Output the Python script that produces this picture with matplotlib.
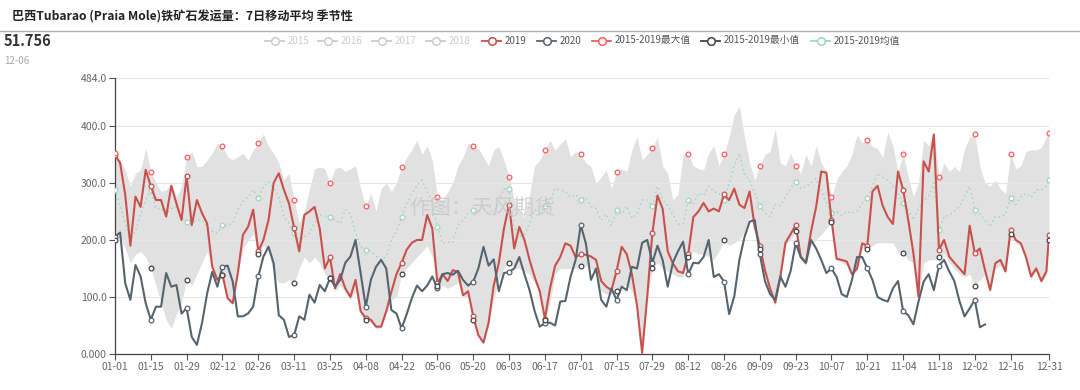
import numpy as np
import pandas as pd
import matplotlib
matplotlib.use('Agg')
import matplotlib.pyplot as plt
from matplotlib.lines import Line2D

plt.rcParams['font.family'] = ['Noto Sans CJK SC', 'DejaVu Sans']

# 采样日（2020年日历上的第几天，每2天一个点，最后补 12-31）
days = list(range(0, 365, 2)) + [365]

# 2019年
y2019 = [349, 335, 279, 190, 276, 258, 323,
         294, 270, 270, 241, 295, 264, 235,
         312, 226, 270, 247, 229, 153, 130,
         139, 98, 89, 142, 209, 223, 253,
         180, 200, 235, 300, 317, 288, 264,
         221, 180, 244, 250, 258, 220, 150,
         170, 115, 140, 115, 100, 130, 75,
         63, 60, 48, 48, 75, 109, 140,
         160, 183, 195, 200, 200, 244, 220,
         124, 140, 128, 147, 144, 103, 110,
         66, 33, 20, 55, 120, 160, 220,
         262, 185, 223, 200, 165, 135, 110,
         62, 115, 155, 170, 194, 190, 170,
         175, 174, 171, 165, 128, 118, 112,
         145, 188, 175, 140, 85, 2, 101,
         212, 278, 255, 180, 159, 145, 142,
         175, 240, 250, 265, 250, 255, 250,
         280, 270, 290, 262, 256, 285, 223,
         190, 147, 115, 90, 135, 195, 210,
         226, 170, 160, 215, 258, 320, 318,
         235, 167, 165, 162, 140, 150, 194,
         190, 285, 295, 260, 240, 228, 320,
         288, 235, 177, 101, 338, 320, 385,
         183, 200, 171, 160, 150, 140, 225,
         177, 185, 147, 112, 159, 165, 145,
         218, 200, 194, 170, 136, 150, 128,
         145, 209]

# 2020年（截至 12-06）
y2020 = [206, 213, 124, 95, 156, 136, 89,
         60, 83, 83, 142, 118, 121, 71,
         80, 30, 16, 54, 106, 144, 118,
         153, 155, 127, 66, 66, 71, 83,
         136, 171, 188, 159, 68, 60, 30,
         33, 66, 60, 104, 90, 121, 110,
         133, 118, 130, 160, 171, 200, 142,
         83, 130, 153, 165, 150, 77, 71,
         45, 70, 98, 120, 110, 120, 136,
         115, 140, 142, 139, 146, 130, 120,
         127, 150, 188, 155, 166, 110, 142,
         144, 150, 170, 140, 112, 75, 48,
         54, 55, 50, 92, 93, 135, 165,
         226, 194, 130, 150, 95, 83, 115,
         95, 118, 112, 153, 150, 195, 200,
         160, 190, 165, 118, 160, 180, 197,
         140, 160, 159, 170, 200, 135, 140,
         127, 70, 101, 165, 205, 232, 235,
         175, 128, 105, 95, 136, 118, 145,
         194, 170, 160, 200, 185, 165, 142,
         150, 135, 105, 100, 130, 170, 170,
         150, 130, 100, 95, 92, 115, 128,
         75, 68, 52, 92, 127, 140, 112,
         155, 165, 145, 128, 93, 66, 80,
         95, 47, 51.756]

# 2015-2019 最大值
max_1519 = [352, 340, 323, 294, 317, 323, 361,
            320, 300, 285, 288, 300, 275, 294,
            345, 355, 329, 329, 340, 352, 370,
            364, 346, 340, 346, 352, 340, 358,
            370, 386, 364, 352, 335, 305, 317,
            270, 230, 250, 290, 325, 328, 325,
            300, 325, 328, 320, 325, 330, 290,
            260, 282, 250, 290, 300, 285, 300,
            328, 345, 358, 375, 350, 365, 340,
            275, 270, 285, 300, 330, 345, 370,
            365, 360, 345, 330, 358, 364, 340,
            311, 270, 253, 240, 280, 330, 340,
            358, 375, 358, 368, 378, 346, 355,
            350, 335, 329, 300, 310, 323, 290,
            320, 325, 320, 358, 381, 340, 350,
            362, 380, 330, 317, 270, 280, 350,
            350, 330, 325, 323, 352, 365, 330,
            350, 381, 420, 434, 381, 335, 305,
            330, 350, 355, 395, 335, 330, 352,
            330, 317, 350, 330, 365, 335, 320,
            275, 305, 320, 330, 350, 385, 370,
            375, 364, 360, 345, 390, 365, 320,
            350, 311, 276, 300, 375, 365, 390,
            310, 335, 320, 329, 320, 360, 380,
            385, 329, 300, 294, 305, 290, 282,
            350, 325, 330, 355, 358, 358, 362,
            381, 387]

# 2015-2019 最小值
min_1519 = [200, 205, 185, 160, 175, 180, 170,
            150, 120, 90, 60, 45, 70, 90,
            130, 120, 140, 160, 180, 150, 130,
            139, 98, 89, 140, 185, 200, 210,
            175, 190, 180, 140, 125, 125, 130,
            124, 150, 170, 160, 170, 160, 140,
            133, 110, 120, 110, 95, 110, 70,
            60, 55, 45, 45, 70, 95, 100,
            140, 150, 160, 170, 180, 190, 170,
            120, 120, 115, 120, 125, 100, 100,
            60, 33, 20, 50, 95, 130, 150,
            160, 150, 150, 145, 140, 125, 105,
            60, 90, 140, 150, 150, 150, 150,
            155, 155, 150, 140, 110, 105, 105,
            110, 120, 120, 110, 80, 2, 95,
            150, 160, 150, 145, 140, 135, 135,
            170, 180, 175, 175, 170, 165, 180,
            200, 190, 195, 200, 215, 240, 220,
            185, 147, 115, 85, 130, 190, 200,
            215, 165, 155, 190, 200, 210, 220,
            232, 165, 160, 155, 138, 145, 185,
            185, 190, 195, 195, 195, 195, 180,
            177, 165, 160, 101, 160, 165, 165,
            170, 175, 160, 150, 140, 135, 140,
            120, 130, 140, 110, 150, 155, 140,
            210, 195, 190, 165, 130, 145, 125,
            140, 200]

# 2015-2019 均值
mean_1519 = [288, 260, 230, 200, 215, 245, 270,
             288, 255, 255, 245, 255, 258, 240,
             232, 229, 235, 235, 223, 215, 212,
             226, 225, 230, 253, 268, 275, 288,
             273, 294, 302, 290, 276, 240, 230,
             212, 200, 205, 212, 230, 244, 242,
             241, 235, 229, 253, 245, 212, 188,
             183, 180, 172, 165, 171, 200, 215,
             240, 264, 280, 295, 305, 285, 265,
             223, 194, 196, 196, 225, 235, 247,
             253, 250, 255, 262, 245, 270, 290,
             290, 223, 206, 210, 229, 253, 248,
             259, 270, 290, 288, 285, 275, 280,
             270, 275, 259, 255, 235, 245, 225,
             253, 245, 259, 238, 245, 270, 270,
             259, 294, 270, 260, 245, 228, 228,
             270, 262, 282, 278, 294, 285, 282,
             270, 300, 330, 352, 315, 305, 282,
             259, 247, 241, 262, 260, 275, 290,
             302, 290, 294, 300, 308, 285, 266,
             247, 250, 243, 250, 247, 250, 264,
             273, 294, 317, 310, 305, 294, 282,
             264, 253, 235, 255, 270, 276, 300,
             218, 241, 243, 250, 259, 276, 294,
             253, 245, 235, 223, 241, 240, 245,
             273, 262, 276, 282, 275, 288, 288,
             294, 306]

yticks = [0, 100, 200, 300, 400, 484]
ytick_labels = ['0.000', '100.0', '200.0', '300.0', '400.0', '484.0']
tick_days = list(range(0, 351, 14)) + [365]
cal = pd.date_range('2020-01-01', '2020-12-31')
xtick_labels = [cal[d].strftime('%m-%d') for d in tick_days]

c2019 = '#c9504c'
c2020 = '#55646f'
cmax = '#ff5c5c'
cmin = '#444444'
cmean = '#a3d6bd'

W, H = 1080, 390
fig = plt.figure(figsize=(W / 100, H / 100), dpi=100)
ax = fig.add_axes([115 / W, 36 / H, 934 / W, 276 / H])

ax.set_xlim(0, 365)
ax.set_ylim(0, 484)
ax.set_yticks(yticks)
ax.set_yticklabels(ytick_labels)
ax.set_xticks(tick_days)
ax.set_xticklabels(xtick_labels)
ax.tick_params(axis='both', labelsize=7.5, labelcolor='#666666', color='#555555',
               length=4, width=0.8, direction='out', pad=2)
ax.grid(axis='y', color='#e6e6e6', lw=0.8, zorder=0)
for s in ['top', 'right']:
    ax.spines[s].set_visible(False)
for s in ['left', 'bottom']:
    ax.spines[s].set_color('#444444')
    ax.spines[s].set_linewidth(0.9)

marks = list(range(0, 182, 7)) + [183]
mk = dict(marker='o', ms=3.4, mfc='white', mew=0.9)

ax.fill_between(days, min_1519, max_1519, color='#d6d6d6', alpha=0.72, lw=0, zorder=1)
ax.plot(days, mean_1519, color=cmean, ls=(0, (1, 2)), lw=1.1, markevery=marks,
        mec=cmean, zorder=3, **mk)
ax.plot(days, y2019, color=c2019, lw=1.5, markevery=marks, mec=c2019, zorder=4, **mk)
ax.plot(days[:len(y2020)], y2020, color=c2020, lw=1.5, markevery=list(range(0, len(y2020), 7)),
        mec=c2020, zorder=5, **mk)
ax.plot(days, max_1519, ls='none', markevery=marks, mec=cmax, zorder=6, **mk)
ax.plot(days, min_1519, ls='none', markevery=marks, mec=cmin, zorder=6, **mk)

# 标题与分隔线
fig.text(12 / W, 1 - 17 / H, '巴西Tubarao (Praia Mole)铁矿石发运量：7日移动平均 季节性',
         fontsize=8.7, fontweight='bold', color='#222222', va='center', ha='left')
fig.add_artist(Line2D([0, 1], [1 - 30.5 / H, 1 - 30.5 / H], transform=fig.transFigure,
                      color='#b0b0b0', lw=1))
fig.text(4 / W, 1 - 41 / H, '51.756', fontsize=10.5, fontweight='bold', color='#333333',
         va='center', ha='left')
fig.text(4 / W, 1 - 61 / H, '12-06', fontsize=7, color='#aaaaaa', va='center', ha='left')

# 水印
fig.text(482 / W, 1 - 208 / H, '作图：天风期货', fontsize=15, color='#c8c8c8',
         alpha=0.8, va='center', ha='center', zorder=10)

# 图例
legend_items = [
    (265, '2015', '#cccccc', '#cccccc'),
    (318, '2016', '#cccccc', '#cccccc'),
    (372, '2017', '#cccccc', '#cccccc'),
    (426, '2018', '#cccccc', '#cccccc'),
    (482, '2019', c2019, '#555555'),
    (537, '2020', c2020, '#555555'),
    (592, '2015-2019最大值', cmax, '#555555'),
    (701, '2015-2019最小值', cmin, '#555555'),
    (811, '2015-2019均值', cmean, '#555555'),
]
ly = 1 - 40.5 / H
for x0, lab, col, tcol in legend_items:
    fig.add_artist(Line2D([x0 / W, (x0 + 19) / W], [ly, ly], transform=fig.transFigure,
                          color=col, lw=1.3))
    fig.add_artist(Line2D([(x0 + 9.5) / W], [ly], transform=fig.transFigure, marker='o',
                          ms=5.5, mfc='white', mec=col, mew=1.1, ls='none'))
    fig.text((x0 + 23) / W, ly, lab, fontsize=7, color=tcol, va='center', ha='left')

fig.savefig('out.png', dpi=100)
